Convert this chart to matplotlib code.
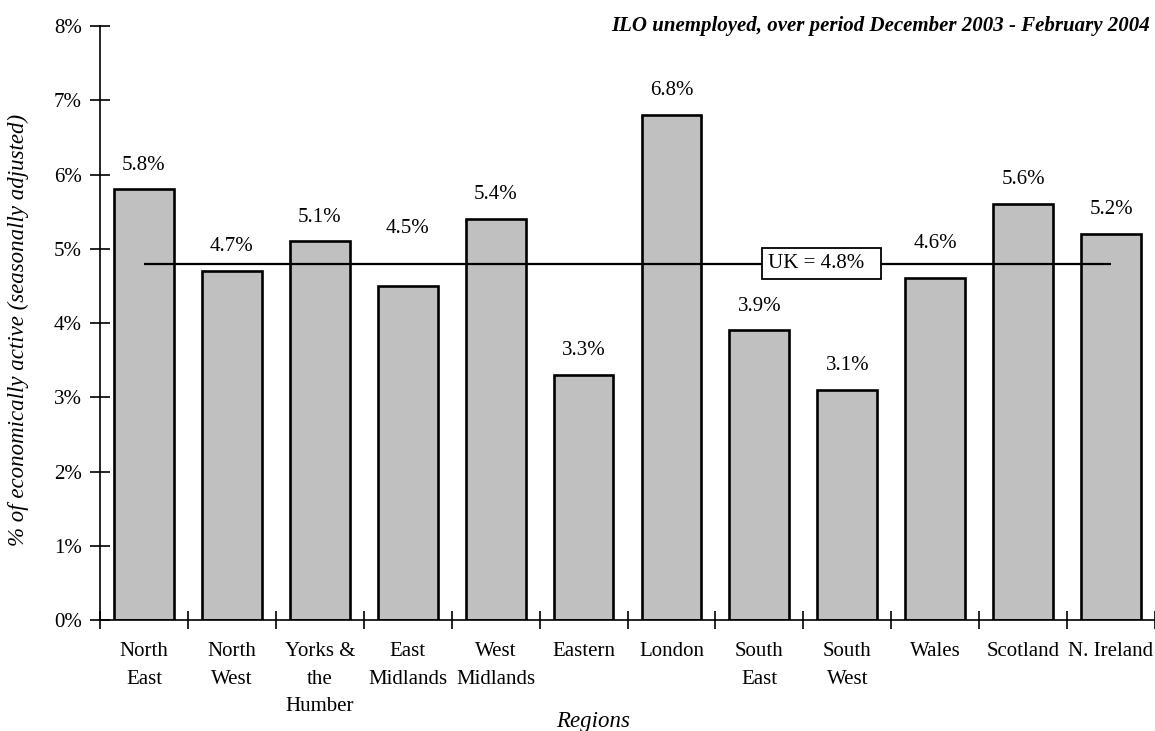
import matplotlib.pyplot as plt
import numpy as np
from matplotlib.ticker import FixedLocator, FuncFormatter

plt.rcParams['font.family'] = ['Liberation Serif', 'DejaVu Serif']

regions = ["North\nEast", "North\nWest", "Yorks &\nthe\nHumber", "East\nMidlands",
           "West\nMidlands", "Eastern", "London", "South\nEast", "South\nWest",
           "Wales", "Scotland", "N. Ireland"]
rates = [5.8, 4.7, 5.1, 4.5, 5.4, 3.3, 6.8, 3.9, 3.1, 4.6, 5.6, 5.2]
uk_rate = 4.8
y_ticks = [0, 1, 2, 3, 4, 5, 6, 7, 8]

fig = plt.figure(figsize=(11.55, 7.31), dpi=100)
ax = fig.add_axes([100 / 1155, 1 - 620 / 731, 1055 / 1155, 594 / 731])

x = np.arange(len(regions))
bar_w = 0.68
ax.bar(x, rates, width=bar_w, color="#c0c0c0", edgecolor="black", linewidth=1.9, zorder=2)

# labels that would sit on the UK line get lifted clear of it
lift = {3: 24, 9: 7.5}
for i, (xi, v) in enumerate(zip(x, rates)):
    ax.annotate(f"{v:.1f}%", (xi, v), xytext=(0, 17.5 + lift.get(i, 0)), textcoords="offset points",
                ha="center", va="center", fontsize=15)

# UK average line, bar centre to bar centre
ax.hlines(uk_rate, x[0], x[-1], color="black", linewidth=1.6, zorder=3)
ax.text(7.1, uk_rate, f"UK = {uk_rate}%  ", ha="left", va="center", fontsize=15, zorder=4,
        bbox=dict(boxstyle="square,pad=0.3", facecolor="white", edgecolor="black", linewidth=1.3))

ax.set_xlim(-0.5, len(regions) - 0.5)
ax.set_ylim(0, 8)
ax.set_yticks(y_ticks)
ax.yaxis.set_major_formatter(FuncFormatter(lambda v, p: f"{v:.0f}%"))
ax.tick_params(axis="y", direction="inout", length=14, width=1.2, labelsize=15, pad=6)

ax.set_xticks(x)
ax.set_xticklabels(regions, fontsize=15, linespacing=1.6, va="top")
ax.tick_params(axis="x", which="major", length=0, pad=16)
ax.xaxis.set_minor_locator(FixedLocator(np.arange(-0.5, len(regions), 1.0)))
ax.tick_params(axis="x", which="minor", direction="inout", length=13, width=1.2)

for s in ["top", "right"]:
    ax.spines[s].set_visible(False)
ax.spines["left"].set_linewidth(1.2)
ax.spines["bottom"].set_linewidth(1.2)

fig.text(18 / 1155, 1 - 330 / 731, "% of economically active (seasonally adjusted)",
         rotation=90, ha="center", va="center", fontsize=16.5, style="italic")
fig.text(593 / 1155, 1 - 722 / 731, "Regions", ha="center", va="center",
         fontsize=16.5, style="italic")
fig.text(1150 / 1155, 1 - 26 / 731, "ILO unemployed, over period December 2003 - February 2004",
         ha="right", va="center", fontsize=15, style="italic", weight="bold")

fig.savefig("out.png", dpi=100)
